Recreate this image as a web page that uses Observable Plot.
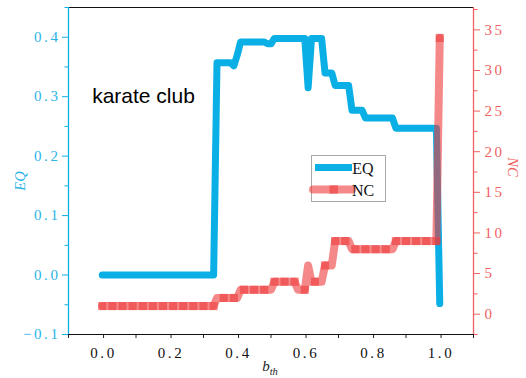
<!DOCTYPE html>
<html><head><meta charset="utf-8">
<script src="https://cdn.jsdelivr.net/npm/d3@7"></script>
<script src="https://cdn.jsdelivr.net/npm/@observablehq/plot@0.6"></script>
<style>
html,body{margin:0;padding:0;background:#fff;overflow:hidden;}
#chart svg g[aria-label="y-axis tick label"] text,
#chart svg g[aria-label="x-axis tick label"] text{letter-spacing:2.6px;}
</style></head><body><div id="chart"></div>
<script>
// b_th grid (0.00 ... 1.00)
const bth = d3.range(101).map(i => i / 100);
// EQ values
const eq = [
  0,0,0,0,0,0,0,0,0,0, 0,0,0,0,0,0,0,0,0,0, 0,0,0,0,0,0,0,0,0,0, 0,0,0,0,
  0.357,0.357,0.357,0.357,0.357, 0.352, 0.37,
  0.392,0.392,0.392,0.392,0.392,0.392,0.392,0.392, 0.389,0.389,
  0.398,0.398,0.398,0.398,0.398,0.398,0.398,0.398,0.398,0.398, 0.315,
  0.398,0.398,0.398,0.398, 0.340,0.340,0.340,
  0.319,0.319,0.319,0.319,0.319, 0.277,0.277,0.277,0.277,
  0.264,0.264,0.264,0.264,0.264,0.264,0.264,0.264,0.264,
  0.247,0.247,0.247,0.247,0.247,0.247,0.247,0.247,0.247,0.247,0.247,0.247,0.247,
  -0.048
];
// NC values
const nc = [
  1,1,1,1,1,1,1,1,1,1, 1,1,1,1,1,1,1,1,1,1, 1,1,1,1,1,1,1,1,1,1, 1,1,1,1,
  2,2,2,2,2,2,2,
  3,3,3,3,3,3,3,3,3,3,
  4,4,4,4,4,4,4,
  3,3,3, 6, 4,4,4,4, 6,6,6,
  9,9,9,9,9,
  8,8,8,8,8,8,8,8,8,8,8,8,8,
  9,9,9,9,9,9,9,9,9,9,9,9,9,
  34
];
const xTicks = [0, 0.2, 0.4, 0.6, 0.8, 1.0];
const xMinor = [-0.1, 0.1, 0.3, 0.5, 0.7, 0.9, 1.1];
const eqTicks = [-0.1, 0, 0.1, 0.2, 0.3, 0.4];
const eqMinor = [-0.05, 0.05, 0.15, 0.25, 0.35, 0.45];
const ncTicks = [0, 5, 10, 15, 20, 25, 30, 35];
const ncMinor = [-2.5, 2.5, 7.5, 12.5, 17.5, 22.5, 27.5, 32.5, 37.5];
const xDomain = [-0.1, 1.1];
const eqDomain = [-0.1, 0.45];
const ncDomain = [-2.5, 37.75];
const annotation = [{b: -0.03, eq: 0.29, text: "karate club"}];

const blue = "#0aafe6";
const blueText = "#2ab4e6";
const red = "#ee3a3a";
const redText = "#f06060";

const toEq = d3.scaleLinear().domain(ncDomain).range(eqDomain);
const data = bth.map((b, i) => ({b, eq: eq[i], nc: nc[i], ncy: toEq(nc[i]), i}));
const markers = data.filter(d => d.i % 3 === 0 || d.i === 100);
const fmt = d3.format(".1f");

const chart = Plot.plot({
  width: 526, height: 378,
  marginLeft: 68, marginRight: 53, marginTop: 7, marginBottom: 44,
  x: {domain: xDomain},
  y: {domain: eqDomain},
  style: {fontFamily: "Liberation Serif", fontSize: "15px", background: "white", overflow: "visible"},
  marks: [
    // axes
    Plot.axisX(xMinor, {tickSize: 4, text: null, stroke: "#222", label: null}),
    Plot.axisX(xTicks, {tickSize: 4, tickPadding: 9, dx: 1.3, tickFormat: fmt, fill: "#111", stroke: "#222", label: null}),
    Plot.axisY(eqMinor, {anchor: "left", tickSize: 3.5, text: null, stroke: blue, label: null}),
    Plot.axisY(eqTicks, {anchor: "left", tickSize: 6, tickPadding: 2, tickFormat: fmt, fill: blueText, stroke: blue, label: null}),
    Plot.axisY(ncMinor.map(toEq), {anchor: "right", tickSize: 3.5, text: null, stroke: redText, label: null}),
    Plot.axisY(ncTicks.map(toEq), {anchor: "right", tickSize: 6, tickPadding: 5, tickFormat: v => String(Math.round(toEq.invert(v))), fill: redText, stroke: redText, label: null}),
    // frame lines
    Plot.ruleY([eqDomain[1], eqDomain[0]], {stroke: "#111", strokeWidth: 1.2}),
    Plot.ruleX([xDomain[0]], {stroke: blue, strokeWidth: 1.3}),
    Plot.ruleX([xDomain[1]], {stroke: redText, strokeWidth: 1.3}),
    // series
    Plot.line(data, {x: "b", y: "eq", stroke: blue, strokeWidth: 7, strokeLinecap: "round", strokeLinejoin: "round"}),
    Plot.line(data, {x: "b", y: "ncy", stroke: red, strokeOpacity: 0.6, strokeWidth: 8, strokeLinecap: "round", strokeLinejoin: "round"}),
    Plot.dot(markers, {x: "b", y: "ncy", symbol: "square", r: 4.6, fill: red, fillOpacity: 0.6}),
    Plot.text(annotation, {x: "b", y: "eq", text: "text", textAnchor: "start", fontFamily: "Liberation Sans, Arial, sans-serif", fontSize: 21, fill: "#000", lineAnchor: "bottom"})
  ]
});
document.getElementById("chart").appendChild(chart);

const svg = d3.select(chart);
// axis titles
const xl = svg.append("text").attr("x", 270).attr("y", 371).attr("text-anchor", "middle")
  .attr("font-family", "Liberation Serif").attr("font-style", "italic").attr("font-size", 15).attr("fill", "#222");
xl.append("tspan").text("b");
xl.append("tspan").attr("dy", 4).attr("font-size", 10.5).text("th");
svg.append("text").attr("transform", "translate(20,181) rotate(-90)").attr("text-anchor", "middle").attr("dy", "0.35em")
  .attr("font-family", "Liberation Serif").attr("font-style", "italic").attr("font-size", 14.5).attr("fill", blueText).text("EQ");
svg.append("text").attr("transform", "translate(513,167) rotate(90)").attr("text-anchor", "middle").attr("dy", "0.35em")
  .attr("font-family", "Liberation Serif").attr("font-style", "italic").attr("font-size", 14.5).attr("fill", redText).text("NC");
// legend
const lg = svg.append("g");
lg.append("rect").attr("x", 311.5).attr("y", 155.5).attr("width", 74).attr("height", 46)
  .attr("fill", "white").attr("stroke", "#a8a8a8").attr("stroke-width", 1);
lg.append("line").attr("x1", 315).attr("x2", 352).attr("y1", 167.5).attr("y2", 167.5)
  .attr("stroke", blue).attr("stroke-width", 7);
lg.append("line").attr("x1", 313).attr("x2", 352).attr("y1", 189.5).attr("y2", 189.5)
  .attr("stroke", red).attr("stroke-opacity", 0.6).attr("stroke-width", 8).attr("stroke-linecap", "round");
lg.append("rect").attr("x", 329.5).attr("y", 185.3).attr("width", 8.4).attr("height", 8.4)
  .attr("fill", red).attr("fill-opacity", 0.6);
lg.append("text").attr("x", 363).attr("y", 174).attr("font-family", "Liberation Serif").attr("font-size", 16).attr("fill", "#111").text("EQ");
lg.append("text").attr("x", 363).attr("y", 196).attr("font-family", "Liberation Serif").attr("font-size", 16).attr("fill", "#111").text("NC");
</script></body></html>
